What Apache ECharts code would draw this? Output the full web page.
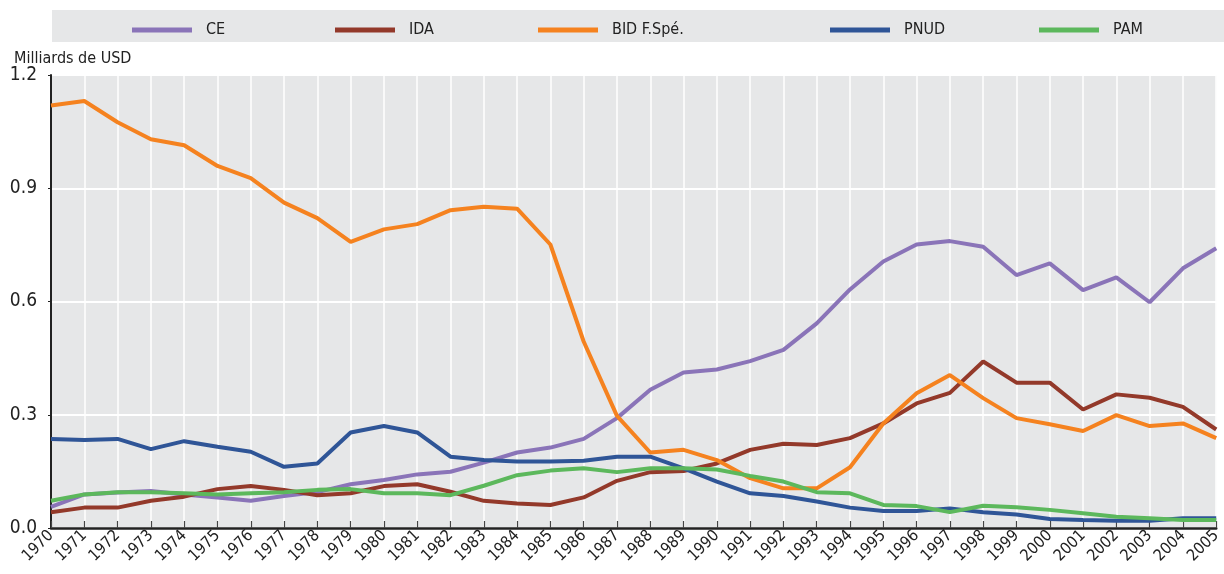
<!DOCTYPE html>
<html>
<head>
<meta charset="utf-8">
<script src="https://cdn.jsdelivr.net/npm/echarts@6/dist/echarts.min.js"></script>
<style>
  html, body { margin: 0; padding: 0; background: #fff; }
  #chart { width: 1224px; height: 574px; }
</style>
</head>
<body>
<div id="chart"></div>
<script>
// years on the x axis
var years = [];
for (var y = 1970; y <= 2005; y++) years.push(String(y));

var yTicks = [0, 0.3, 0.6, 0.9, 1.2];

var ce = [0.056,0.089,0.094,0.098,0.089,0.081,0.072,0.085,0.095,0.116,0.127,0.142,0.149,0.173,0.200,0.213,0.236,0.291,0.366,0.412,0.420,0.442,0.472,0.542,0.632,0.706,0.751,0.760,0.745,0.670,0.701,0.630,0.664,0.598,0.688,0.741];
var ida = [0.042,0.054,0.054,0.072,0.083,0.103,0.111,0.101,0.087,0.092,0.111,0.116,0.096,0.072,0.065,0.061,0.081,0.125,0.148,0.151,0.171,0.207,0.223,0.220,0.238,0.277,0.330,0.358,0.441,0.385,0.385,0.314,0.354,0.345,0.321,0.261];
var bid = [1.119,1.131,1.075,1.030,1.014,0.959,0.927,0.862,0.821,0.758,0.791,0.805,0.842,0.851,0.846,0.751,0.494,0.297,0.200,0.207,0.180,0.132,0.105,0.105,0.161,0.277,0.357,0.405,0.344,0.291,0.275,0.257,0.299,0.270,0.277,0.238];
var pnud = [0.236,0.233,0.236,0.209,0.230,0.215,0.202,0.162,0.171,0.253,0.270,0.253,0.189,0.180,0.176,0.176,0.178,0.189,0.189,0.158,0.123,0.092,0.085,0.070,0.054,0.045,0.045,0.052,0.042,0.036,0.024,0.021,0.019,0.019,0.026,0.026];
var pam = [0.072,0.089,0.095,0.095,0.092,0.089,0.092,0.095,0.101,0.103,0.092,0.092,0.087,0.112,0.140,0.152,0.158,0.148,0.158,0.158,0.155,0.138,0.123,0.095,0.092,0.061,0.058,0.042,0.059,0.055,0.048,0.039,0.030,0.026,0.021,0.021];

var names = ['CE', 'IDA', 'BID F.Spé.', 'PNUD', 'PAM'];
var colors = ['#8a74b8', '#93392a', '#f5821f', '#2f5597', '#5cb85c'];
var values = [ce, ida, bid, pnud, pam];
var legendLeft = [127, 330, 533, 825, 1034];

var FONT = '"DejaVu Sans Condensed", "Liberation Sans Narrow", Arial, sans-serif';

var chart = echarts.init(document.getElementById('chart'));

var legends = names.map(function (n, i) {
  return {
    data: [{ name: n, icon: 'rect' }],
    left: legendLeft[i],
    top: 17,
    itemWidth: 60,
    itemHeight: 5,
    selectedMode: false,
    textStyle: { fontFamily: FONT, fontSize: 16, color: '#222', padding: [0, 0, 0, 9] }
  };
});

var series = names.map(function (n, i) {
  return {
    name: n,
    type: 'line',
    data: values[i],
    symbol: 'none',
    lineStyle: { width: 4, color: colors[i] },
    itemStyle: { color: colors[i] },
    z: 3 + i
  };
});

chart.setOption({
  animation: false,
  graphic: [{
    type: 'rect',
    shape: { x: 52, y: 10, width: 1172, height: 32 },
    style: { fill: '#e6e7e8' },
    z: -1
  }],
  title: {
    text: 'Milliards de USD',
    left: 9,
    top: 46,
    textStyle: { fontFamily: FONT, fontSize: 16, fontWeight: 'normal', color: '#222' }
  },
  legend: legends,
  grid: {
    left: 51, right: 2, top: 75, bottom: 46,
    show: true, backgroundColor: '#e6e7e8', borderWidth: 0
  },
  xAxis: {
    type: 'category',
    data: years,
    boundaryGap: false,
    axisLine: { lineStyle: { color: '#222', width: 2.5 } },
    axisTick: { inside: true, length: 7, lineStyle: { color: '#444', width: 1.2 } },
    axisLabel: { rotate: 45, fontFamily: FONT, fontSize: 16, color: '#222', margin: 5, interval: 0 },
    splitLine: { show: true, lineStyle: { color: '#ffffff', width: 1.5 } }
  },
  yAxis: {
    type: 'value',
    min: 0,
    max: yTicks[yTicks.length - 1],
    interval: 0.3,
    axisLine: { show: true, lineStyle: { color: '#222', width: 2 } },
    axisTick: { show: true, length: 3, lineStyle: { color: '#222' } },
    axisLabel: {
      fontFamily: FONT, fontSize: 19, color: '#222', margin: 14,
      formatter: function (v) { return v.toFixed(1); }
    },
    splitLine: { show: true, lineStyle: { color: '#ffffff', width: 2 } }
  },
  series: series
});
</script>
</body>
</html>
